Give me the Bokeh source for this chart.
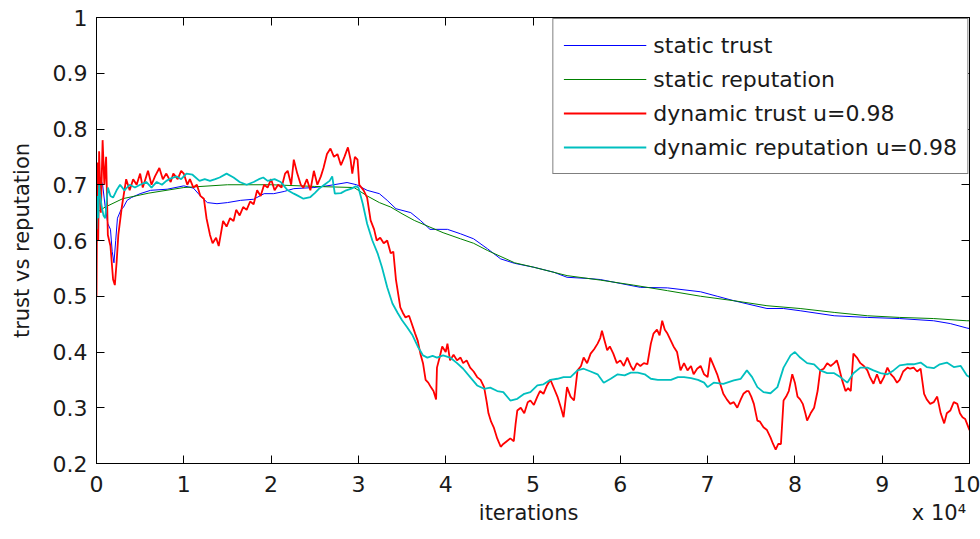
from bokeh.plotting import figure
from bokeh.models import (LinearAxis, FixedTicker, CustomJSTickFormatter, Legend, LegendItem, Range1d)
from bokeh.embed import file_html
from bokeh.resources import INLINE

# ---------------- data (iterations in units of 10^4) ----------------
x_ticks = [0, 1, 2, 3, 4, 5, 6, 7, 8, 9, 10]
y_ticks = [0.2, 0.3, 0.4, 0.5, 0.6, 0.7, 0.8, 0.9, 1.0]

static_trust_x = [0.00, 0.02, 0.04, 0.07, 0.10, 0.13, 0.16, 0.18, 0.20, 0.22, 0.24, 0.28, 0.31, 0.35,
                  0.40, 0.50, 0.62, 0.81, 1.00, 1.11, 1.19, 1.27, 1.38, 1.50, 1.65, 1.80, 1.92, 2.03,
                  2.15, 2.26, 2.49, 2.64, 2.87, 2.98, 3.10, 3.24, 3.33, 3.43, 3.60, 3.71, 3.82, 3.90,
                  4.02, 4.17, 4.32, 4.48, 4.63, 4.79, 5.01, 5.24, 5.39, 5.62, 5.77, 6.00, 6.23, 6.54,
                  6.92, 7.11, 7.30, 7.68, 7.87, 8.06, 8.45, 8.83, 9.20, 9.59, 9.78, 9.97, 10.0]
static_trust_y = [0.65, 0.70, 0.713, 0.70, 0.66, 0.63, 0.62, 0.58, 0.56, 0.60, 0.64, 0.655, 0.66, 0.672,
                  0.677, 0.684, 0.69, 0.692, 0.698, 0.694, 0.68, 0.668, 0.666, 0.668, 0.672, 0.674, 0.684, 0.684,
                  0.688, 0.693, 0.695, 0.698, 0.704, 0.70, 0.69, 0.684, 0.672, 0.657, 0.65, 0.636, 0.62, 0.62,
                  0.62, 0.612, 0.603, 0.585, 0.567, 0.559, 0.552, 0.543, 0.534, 0.532, 0.53, 0.523, 0.516, 0.515,
                  0.508, 0.50, 0.492, 0.478, 0.478, 0.474, 0.465, 0.462, 0.46, 0.456, 0.451, 0.443, 0.442]

static_rep_x = [0.00, 0.10, 0.30, 0.60, 1.00, 1.50, 2.00, 2.50, 2.95, 3.10, 3.24, 3.37, 3.50, 3.64,
                3.82, 3.97, 4.17, 4.32, 4.48, 4.79, 5.01, 5.39, 5.77, 6.15, 6.54, 6.92, 7.30, 7.68,
                8.06, 8.45, 8.83, 9.20, 9.59, 9.97, 10.0]
static_rep_y = [0.65, 0.66, 0.675, 0.685, 0.695, 0.70, 0.70, 0.697, 0.695, 0.68, 0.668, 0.66, 0.648, 0.636,
                0.624, 0.614, 0.603, 0.595, 0.582, 0.56, 0.552, 0.537, 0.529, 0.52, 0.51, 0.50, 0.492, 0.483,
                0.478, 0.471, 0.465, 0.462, 0.46, 0.456, 0.456]

dyn_trust_x = [0.00, 0.01, 0.02, 0.03, 0.05, 0.07, 0.09, 0.11, 0.13, 0.16, 0.19, 0.21, 0.23, 0.25, 0.29,
               0.34, 0.38, 0.42, 0.46, 0.50, 0.53, 0.56, 0.59, 0.63, 0.67, 0.72, 0.76, 0.80, 0.85, 0.88,
               0.93, 0.97, 1.00, 1.04, 1.07, 1.11, 1.15, 1.19, 1.23, 1.26, 1.30, 1.33, 1.37, 1.40, 1.45,
               1.49, 1.53, 1.57, 1.60, 1.64, 1.68, 1.72, 1.76, 1.80, 1.84, 1.88, 1.92, 1.96, 2.00, 2.04,
               2.08, 2.12, 2.16, 2.19, 2.23, 2.26, 2.30, 2.34, 2.37, 2.41, 2.45, 2.49, 2.53, 2.57, 2.60,
               2.64, 2.68, 2.72, 2.76, 2.80, 2.84, 2.88, 2.91, 2.93, 2.96, 2.99, 3.01, 3.06, 3.10, 3.14,
               3.18, 3.21, 3.25, 3.29, 3.33, 3.37, 3.40, 3.43, 3.48, 3.51, 3.54, 3.58, 3.60, 3.65, 3.68,
               3.71, 3.74, 3.77, 3.80, 3.83, 3.86, 3.89, 3.90, 3.93, 3.96, 4.00, 4.02, 4.05, 4.09, 4.13,
               4.17, 4.20, 4.24, 4.28, 4.32, 4.36, 4.40, 4.44, 4.47, 4.49, 4.52, 4.55, 4.59, 4.63, 4.66,
               4.70, 4.74, 4.78, 4.80, 4.82, 4.86, 4.90, 4.94, 4.97, 5.01, 5.05, 5.08, 5.12, 5.16, 5.20,
               5.24, 5.28, 5.32, 5.35, 5.37, 5.39, 5.43, 5.47, 5.51, 5.55, 5.58, 5.62, 5.66, 5.70, 5.74,
               5.77, 5.79, 5.82, 5.85, 5.88, 5.92, 5.96, 6.00, 6.04, 6.08, 6.12, 6.15, 6.19, 6.23, 6.27,
               6.31, 6.35, 6.38, 6.42, 6.45, 6.48, 6.51, 6.54, 6.58, 6.61, 6.65, 6.69, 6.73, 6.77, 6.81,
               6.84, 6.88, 6.92, 6.96, 7.00, 7.03, 7.07, 7.11, 7.15, 7.18, 7.22, 7.26, 7.30, 7.34, 7.38,
               7.41, 7.45, 7.47, 7.50, 7.53, 7.57, 7.60, 7.64, 7.68, 7.72, 7.75, 7.78, 7.81, 7.84, 7.87,
               7.90, 7.93, 7.97, 8.00, 8.03, 8.06, 8.09, 8.12, 8.14, 8.18, 8.22, 8.26, 8.29, 8.33, 8.37,
               8.41, 8.45, 8.48, 8.50, 8.54, 8.58, 8.61, 8.64, 8.67, 8.71, 8.75, 8.79, 8.83, 8.86, 8.90,
               8.94, 8.98, 9.02, 9.06, 9.10, 9.13, 9.17, 9.20, 9.24, 9.29, 9.32, 9.36, 9.40, 9.44, 9.48,
               9.51, 9.55, 9.59, 9.63, 9.67, 9.71, 9.74, 9.78, 9.82, 9.86, 9.89, 9.92, 9.95, 10.0]
dyn_trust_y = [0.50, 0.74, 0.60, 0.76, 0.65, 0.78, 0.70, 0.75, 0.61, 0.59, 0.53, 0.52, 0.56, 0.61, 0.66,
               0.71, 0.69, 0.71, 0.70, 0.72, 0.695, 0.71, 0.725, 0.70, 0.715, 0.73, 0.71, 0.72, 0.705, 0.72,
               0.71, 0.725, 0.72, 0.70, 0.71, 0.695, 0.70, 0.68, 0.675, 0.64, 0.61, 0.595, 0.605, 0.59, 0.635,
               0.625, 0.64, 0.635, 0.655, 0.645, 0.66, 0.655, 0.67, 0.665, 0.69, 0.68, 0.70, 0.695, 0.71, 0.69,
               0.70, 0.695, 0.72, 0.725, 0.70, 0.745, 0.72, 0.70, 0.695, 0.71, 0.69, 0.725, 0.70, 0.715, 0.73,
               0.755, 0.765, 0.75, 0.755, 0.735, 0.75, 0.767, 0.745, 0.72, 0.75, 0.745, 0.70, 0.69, 0.677, 0.636,
               0.62, 0.60, 0.605, 0.595, 0.60, 0.577, 0.58, 0.53, 0.48, 0.47, 0.462, 0.465, 0.456, 0.433, 0.42,
               0.397, 0.38, 0.35, 0.345, 0.337, 0.33, 0.315, 0.372, 0.39, 0.41, 0.40, 0.415, 0.385, 0.395, 0.385,
               0.39, 0.38, 0.385, 0.372, 0.365, 0.355, 0.35, 0.337, 0.31, 0.29, 0.275, 0.265, 0.245, 0.23, 0.235,
               0.24, 0.245, 0.24, 0.27, 0.295, 0.30, 0.29, 0.31, 0.313, 0.305, 0.32, 0.33, 0.325, 0.34, 0.35,
               0.335, 0.32, 0.30, 0.283, 0.31, 0.337, 0.32, 0.313, 0.367, 0.375, 0.39, 0.38, 0.397, 0.405, 0.415,
               0.425, 0.438, 0.42, 0.403, 0.41, 0.397, 0.38, 0.385, 0.375, 0.39, 0.375, 0.367, 0.38, 0.375, 0.38,
               0.378, 0.415, 0.433, 0.44, 0.43, 0.456, 0.44, 0.433, 0.42, 0.41, 0.40, 0.367, 0.38, 0.367, 0.375,
               0.36, 0.37, 0.375, 0.36, 0.355, 0.39, 0.375, 0.36, 0.34, 0.325, 0.315, 0.307, 0.31, 0.30, 0.315,
               0.325, 0.33, 0.33, 0.32, 0.307, 0.277, 0.275, 0.265, 0.26, 0.247, 0.235, 0.225, 0.235, 0.235, 0.313,
               0.32, 0.33, 0.36, 0.345, 0.32, 0.315, 0.307, 0.29, 0.277, 0.29, 0.30, 0.33, 0.367, 0.37, 0.38,
               0.375, 0.38, 0.385, 0.375, 0.35, 0.33, 0.335, 0.33, 0.397, 0.39, 0.38, 0.375, 0.367, 0.355, 0.343,
               0.36, 0.343, 0.355, 0.372, 0.36, 0.355, 0.345, 0.35, 0.365, 0.372, 0.37, 0.372, 0.365, 0.37, 0.325,
               0.315, 0.307, 0.31, 0.32, 0.29, 0.272, 0.29, 0.295, 0.31, 0.307, 0.29, 0.283, 0.28, 0.26]

dyn_rep_x = [0.00, 0.01, 0.02, 0.03, 0.04, 0.06, 0.08, 0.10, 0.13, 0.16, 0.19, 0.23, 0.27, 0.32, 0.38,
             0.44, 0.50, 0.57, 0.63, 0.69, 0.75, 0.80, 0.86, 0.92, 0.97, 1.03, 1.10, 1.18, 1.24, 1.30,
             1.36, 1.41, 1.49, 1.57, 1.64, 1.72, 1.80, 1.86, 1.91, 1.96, 2.04, 2.11, 2.19, 2.26, 2.31,
             2.37, 2.45, 2.50, 2.55, 2.61, 2.67, 2.70, 2.73, 2.80, 2.86, 2.92, 2.97, 3.00, 3.05, 3.10,
             3.16, 3.22, 3.27, 3.33, 3.39, 3.45, 3.50, 3.56, 3.62, 3.68, 3.74, 3.79, 3.85, 3.90, 3.97,
             4.05, 4.13, 4.20, 4.28, 4.36, 4.44, 4.51, 4.59, 4.66, 4.74, 4.82, 4.90, 4.97, 5.05, 5.12,
             5.20, 5.28, 5.35, 5.43, 5.51, 5.58, 5.66, 5.74, 5.81, 5.89, 5.97, 6.05, 6.12, 6.20, 6.28,
             6.35, 6.43, 6.50, 6.58, 6.66, 6.73, 6.81, 6.89, 6.96, 7.00, 7.07, 7.18, 7.30, 7.38, 7.45,
             7.51, 7.57, 7.64, 7.72, 7.80, 7.87, 7.95, 8.00, 8.06, 8.14, 8.22, 8.29, 8.37, 8.45, 8.52,
             8.60, 8.67, 8.75, 8.83, 8.90, 8.98, 9.06, 9.13, 9.20, 9.28, 9.36, 9.44, 9.51, 9.59, 9.66,
             9.74, 9.82, 9.90, 9.97, 10.0]
dyn_rep_y = [0.62, 0.68, 0.64, 0.70, 0.684, 0.66, 0.645, 0.64, 0.695, 0.68, 0.677, 0.69, 0.70, 0.69, 0.70,
             0.695, 0.70, 0.705, 0.695, 0.705, 0.70, 0.707, 0.712, 0.715, 0.71, 0.72, 0.718, 0.707, 0.71, 0.707,
             0.71, 0.713, 0.72, 0.713, 0.705, 0.70, 0.705, 0.71, 0.713, 0.707, 0.71, 0.705, 0.69, 0.684, 0.68,
             0.675, 0.678, 0.685, 0.693, 0.70, 0.707, 0.715, 0.684, 0.685, 0.69, 0.693, 0.697, 0.695, 0.666, 0.63,
             0.60, 0.577, 0.552, 0.516, 0.487, 0.47, 0.457, 0.444, 0.43, 0.41, 0.394, 0.39, 0.393, 0.39, 0.394,
             0.39, 0.38, 0.37, 0.355, 0.34, 0.334, 0.336, 0.33, 0.328, 0.313, 0.316, 0.325, 0.328, 0.34, 0.342,
             0.35, 0.352, 0.355, 0.355, 0.367, 0.37, 0.365, 0.36, 0.345, 0.352, 0.36, 0.358, 0.363, 0.363, 0.36,
             0.352, 0.35, 0.35, 0.35, 0.355, 0.355, 0.353, 0.35, 0.345, 0.337, 0.345, 0.343, 0.349, 0.352, 0.367,
             0.355, 0.337, 0.328, 0.326, 0.337, 0.372, 0.394, 0.40, 0.39, 0.38, 0.378, 0.367, 0.362, 0.362, 0.355,
             0.345, 0.362, 0.372, 0.372, 0.367, 0.362, 0.36, 0.367, 0.376, 0.378, 0.378, 0.381, 0.373, 0.371, 0.378,
             0.381, 0.373, 0.375, 0.358, 0.355]

labels = ["static trust", "static reputation", "dynamic trust u=0.98", "dynamic reputation u=0.98"]
colors = ["#0000FF", "#008000", "#FF0000", "#00BFBF"]
x_title = "iterations"
x_multiplier = "x 10\u2074"
x_title_pos = [4.95, 9.65]   # where the x title and the multiplier sit along the axis

FONT = "DejaVu Sans"
TXT = "#1a1a1a"

p = figure(width=980, height=539, output_backend="svg", toolbar_location=None,
           x_range=Range1d(0, 10), y_range=Range1d(0.2, 1.0),
           min_border_left=96, min_border_right=11, min_border_top=17, min_border_bottom=76,
           y_axis_label="trust vs reputation")
p.background_fill_color = "white"
p.border_fill_color = "white"
p.grid.visible = False
p.outline_line_color = "black"
p.outline_line_width = 1

r1 = p.line(static_trust_x, static_trust_y, line_color=colors[0], line_width=1)
r2 = p.line(static_rep_x, static_rep_y, line_color=colors[1], line_width=1)
r3 = p.line(dyn_trust_x, dyn_trust_y, line_color=colors[2], line_width=1.8)
r4 = p.line(dyn_rep_x, dyn_rep_y, line_color=colors[3], line_width=1.8)

xf = CustomJSTickFormatter(code="return tick.toFixed(0);")
yf = CustomJSTickFormatter(code="var s = tick.toFixed(1); return s.endsWith('.0') ? s.slice(0, -2) : s;")
blank = CustomJSTickFormatter(code="return '';")
titlef = CustomJSTickFormatter(args=dict(a=x_title, b=x_multiplier),
                               code="return index == 0 ? a : b;")

def style_axis(ax, size="22px"):
    ax.axis_line_color = "black"
    ax.major_tick_line_color = "black"
    ax.major_tick_in = 8
    ax.major_tick_out = 0
    ax.minor_tick_line_color = None
    ax.major_label_text_font = FONT
    ax.major_label_text_color = TXT
    ax.major_label_text_font_size = size
    ax.axis_label_text_font = FONT
    ax.axis_label_text_color = TXT
    ax.axis_label_text_font_size = "21px"
    ax.axis_label_text_font_style = "normal"

xa = p.xaxis[0]
xa.ticker = FixedTicker(ticks=x_ticks)
xa.formatter = xf
style_axis(xa)
xa.major_label_standoff = 12

# second (invisible) bottom axis carrying the x title and the "x 10^4" multiplier
xt = LinearAxis(ticker=FixedTicker(ticks=x_title_pos), formatter=titlef)
style_axis(xt, size="21px")
xt.axis_line_color = None
xt.major_tick_line_color = None
xt.major_label_standoff = 6
p.add_layout(xt, "below")

ya = p.yaxis[0]
ya.ticker = FixedTicker(ticks=y_ticks)
ya.formatter = yf
style_axis(ya)
ya.major_label_standoff = 9
ya.axis_label_standoff = 16

top = LinearAxis(ticker=FixedTicker(ticks=x_ticks), formatter=blank, major_label_standoff=0)
style_axis(top)
p.add_layout(top, "above")
right = LinearAxis(ticker=FixedTicker(ticks=y_ticks), formatter=blank, major_label_standoff=0)
style_axis(right)
p.add_layout(right, "right")

legend = Legend(items=[LegendItem(label=labels[i], renderers=[r]) for i, r in enumerate([r1, r2, r3, r4])],
                location="top_right", margin=1, padding=10, spacing=2,
                glyph_width=83, glyph_height=32, label_height=32, label_standoff=7,
                label_text_font=FONT, label_text_font_size="22px", label_text_color=TXT,
                border_line_color="black", border_line_width=1, background_fill_alpha=1.0)
p.add_layout(legend)

open("out.html", "w").write(file_html(p, INLINE))
